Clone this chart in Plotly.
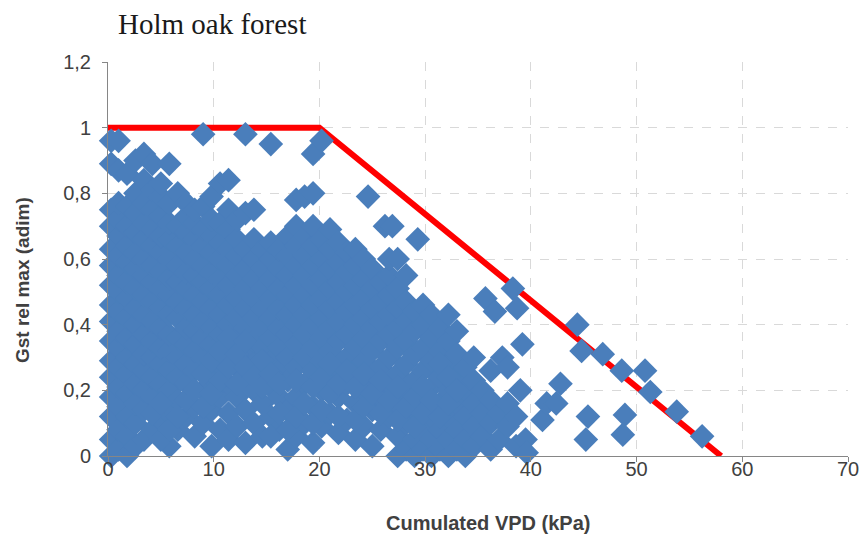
import plotly.graph_objects as go

vpd = [
    0.3,0.3,0.3,0.3,0.3,0.3,0.3,0.3,0.3,0.3,0.3,0.3,0.3,0.3,0.3,0.3,
    1.0,1.0,1.0,1.0,1.0,1.0,1.0,1.0,1.0,1.0,1.0,1.0,1.0,1.0,1.0,1.0,
    1.8,1.8,1.8,1.8,1.8,1.8,1.8,1.8,1.8,1.8,1.8,1.8,1.8,1.8,1.8,
    2.6,2.6,2.6,2.6,2.6,2.6,2.6,2.6,2.6,2.6,2.6,2.6,2.6,2.6,2.6,
    3.4,3.4,3.4,3.4,3.4,3.4,3.4,3.4,3.4,3.4,3.4,3.4,3.4,3.4,3.4,
    4.2,4.2,4.2,4.2,4.2,4.2,4.2,4.2,4.2,4.2,4.2,4.2,4.2,4.2,
    5.0,5.0,5.0,5.0,5.0,5.0,5.0,5.0,5.0,5.0,5.0,5.0,5.0,
    5.8,5.8,5.8,5.8,5.8,5.8,5.8,5.8,5.8,5.8,5.8,5.8,5.8,5.8,
    6.6,6.6,6.6,6.6,6.6,6.6,6.6,6.6,6.6,6.6,6.6,6.6,
    7.4,7.4,7.4,7.4,7.4,7.4,7.4,7.4,7.4,7.4,7.4,7.4,
    8.2,8.2,8.2,8.2,8.2,8.2,8.2,8.2,8.2,8.2,8.2,8.2,
    9.0,9.0,9.0,9.0,9.0,9.0,9.0,9.0,9.0,9.0,9.0,9.0,
    9.8,9.8,9.8,9.8,9.8,9.8,9.8,9.8,9.8,9.8,9.8,9.8,
    10.6,10.6,10.6,10.6,10.6,10.6,10.6,10.6,10.6,10.6,10.6,
    11.4,11.4,11.4,11.4,11.4,11.4,11.4,11.4,11.4,11.4,11.4,11.4,
    12.2,12.2,12.2,12.2,12.2,12.2,12.2,12.2,12.2,12.2,
    13.0,13.0,13.0,13.0,13.0,13.0,13.0,13.0,13.0,13.0,13.0,
    13.8,13.8,13.8,13.8,13.8,13.8,13.8,13.8,13.8,13.8,
    14.6,14.6,14.6,14.6,14.6,14.6,14.6,14.6,14.6,
    15.4,15.4,15.4,15.4,15.4,15.4,15.4,15.4,15.4,15.4,
    16.2,16.2,16.2,16.2,16.2,16.2,16.2,16.2,16.2,
    17.0,17.0,17.0,17.0,17.0,17.0,17.0,17.0,17.0,17.0,
    17.8,17.8,17.8,17.8,17.8,17.8,17.8,17.8,17.8,17.8,17.8,
    18.6,18.6,18.6,18.6,18.6,18.6,18.6,18.6,18.6,18.6,
    19.4,19.4,19.4,19.4,19.4,19.4,19.4,19.4,19.4,19.4,19.4,19.4,
    20.2,20.2,20.2,20.2,20.2,20.2,20.2,20.2,20.2,20.2,
    21.0,21.0,21.0,21.0,21.0,21.0,21.0,21.0,21.0,
    21.8,21.8,21.8,21.8,21.8,21.8,21.8,21.8,21.8,
    22.6,22.6,22.6,22.6,22.6,22.6,22.6,22.6,
    23.4,23.4,23.4,23.4,23.4,23.4,23.4,23.4,23.4,
    24.2,24.2,24.2,24.2,24.2,24.2,24.2,24.2,24.6,
    25.0,25.0,25.0,25.0,25.0,25.0,25.0,25.0,
    25.8,25.8,25.8,25.8,25.8,25.8,25.8,26.2,
    26.6,26.6,26.6,26.6,26.6,26.6,26.6,26.6,26.9,
    27.4,27.4,27.4,27.4,27.4,27.4,27.4,27.4,27.4,
    28.2,28.2,28.2,28.2,28.2,28.2,28.2,28.2,
    29.0,29.0,29.0,29.0,29.0,29.0,29.0,29.3,
    29.8,29.8,29.8,29.8,29.8,29.8,29.8,
    30.6,30.6,30.6,30.6,30.6,30.6,30.6,
    31.4,31.4,31.4,31.4,31.4,31.4,
    32.2,32.2,32.2,32.2,32.2,32.2,32.2,
    33.0,33.0,33.0,33.0,33.0,33.0,
    33.8,33.8,33.8,33.8,33.8,
    34.6,34.6,34.6,34.6,34.6,
    35.4,35.4,35.4,35.7,
    36.2,36.2,36.2,36.2,36.6,
    37.0,37.0,37.3,37.8,
    37.8,37.8,38.3,38.7,
    38.6,38.6,39.2,39.0,
    39.5,39.6,41.1,41.5,42.4,42.8,44.4,44.8,45.4,45.2,
    46.8,48.6,50.8,51.3,53.8,56.2,48.9,48.7,
]
gst = [
    0.00,0.05,0.12,0.18,0.24,0.29,0.35,0.41,0.46,0.52,0.58,0.63,0.70,0.75,0.89,0.96,
    0.02,0.08,0.15,0.21,0.27,0.33,0.38,0.44,0.50,0.55,0.61,0.67,0.72,0.77,0.87,0.96,
    0.00,0.06,0.12,0.19,0.25,0.30,0.36,0.42,0.48,0.53,0.59,0.64,0.70,0.76,0.86,
    0.03,0.10,0.16,0.22,0.28,0.34,0.40,0.45,0.51,0.57,0.62,0.68,0.74,0.80,0.90,
    0.05,0.14,0.20,0.26,0.31,0.37,0.43,0.49,0.55,0.60,0.66,0.71,0.77,0.84,0.92,
    0.08,0.18,0.24,0.30,0.35,0.41,0.47,0.53,0.58,0.64,0.69,0.75,0.81,0.89,
    0.11,0.22,0.28,0.33,0.39,0.45,0.51,0.56,0.62,0.67,0.73,0.79,0.83,
    0.03,0.13,0.20,0.26,0.32,0.37,0.43,0.49,0.54,0.60,0.66,0.71,0.77,0.89,
    0.08,0.17,0.24,0.30,0.36,0.42,0.47,0.53,0.58,0.64,0.70,0.80,
    0.12,0.22,0.28,0.34,0.39,0.45,0.51,0.56,0.62,0.68,0.73,0.77,
    0.06,0.15,0.26,0.32,0.38,0.43,0.49,0.55,0.60,0.66,0.71,0.75,
    0.10,0.20,0.30,0.36,0.41,0.47,0.53,0.58,0.64,0.69,0.76,0.98,
    0.03,0.14,0.24,0.34,0.39,0.45,0.51,0.56,0.62,0.67,0.72,0.79,
    0.08,0.18,0.28,0.37,0.43,0.49,0.54,0.60,0.65,0.71,0.83,
    0.05,0.13,0.22,0.32,0.40,0.46,0.52,0.58,0.63,0.69,0.75,0.84,
    0.09,0.18,0.27,0.36,0.42,0.48,0.55,0.61,0.66,0.72,
    0.04,0.14,0.23,0.31,0.39,0.45,0.51,0.57,0.63,0.74,0.98,
    0.10,0.20,0.28,0.35,0.42,0.48,0.54,0.60,0.66,0.75,
    0.06,0.16,0.25,0.33,0.39,0.45,0.51,0.57,0.63,
    0.12,0.21,0.29,0.36,0.42,0.48,0.54,0.60,0.65,0.95,
    0.08,0.18,0.26,0.33,0.39,0.45,0.51,0.57,0.63,
    0.02,0.14,0.23,0.30,0.37,0.43,0.49,0.55,0.61,0.67,
    0.06,0.18,0.27,0.34,0.40,0.46,0.52,0.58,0.64,0.70,0.78,
    0.10,0.22,0.30,0.37,0.43,0.49,0.55,0.61,0.67,0.79,
    0.04,0.15,0.26,0.33,0.40,0.46,0.52,0.58,0.64,0.70,0.80,0.92,
    0.09,0.20,0.29,0.36,0.42,0.48,0.54,0.60,0.66,0.96,
    0.13,0.24,0.32,0.39,0.45,0.51,0.57,0.63,0.69,
    0.07,0.18,0.27,0.35,0.41,0.47,0.53,0.59,0.65,
    0.11,0.22,0.30,0.37,0.44,0.50,0.56,0.62,
    0.05,0.16,0.26,0.33,0.40,0.46,0.52,0.58,0.63,
    0.09,0.20,0.29,0.36,0.42,0.48,0.54,0.60,0.79,
    0.03,0.14,0.24,0.32,0.39,0.45,0.51,0.57,
    0.08,0.18,0.27,0.35,0.41,0.47,0.53,0.70,
    0.12,0.22,0.30,0.37,0.43,0.49,0.55,0.60,0.70,
    0.00,0.06,0.16,0.25,0.33,0.39,0.45,0.51,0.60,
    0.02,0.10,0.20,0.28,0.35,0.41,0.47,0.55,
    0.00,0.05,0.14,0.23,0.31,0.38,0.44,0.66,
    0.02,0.08,0.17,0.26,0.33,0.40,0.46,
    0.00,0.05,0.12,0.21,0.29,0.36,0.43,
    0.02,0.08,0.16,0.24,0.32,0.39,
    0.00,0.05,0.12,0.20,0.28,0.35,0.43,
    0.02,0.08,0.16,0.24,0.31,0.38,
    0.00,0.05,0.12,0.20,0.27,
    0.03,0.09,0.16,0.23,0.30,
    0.06,0.13,0.20,0.48,
    0.02,0.10,0.17,0.26,0.44,
    0.05,0.13,0.30,0.27,
    0.09,0.16,0.51,0.45,
    0.03,0.12,0.34,0.20,
    0.05,0.01,0.11,0.16,0.16,0.22,0.40,0.32,0.12,0.05,
    0.31,0.26,0.26,0.195,0.135,0.06,0.125,0.065,
]

# Additional observations in the dense lower part of the cloud
vpd_low = [
    4.2, 5.0,5.0, 5.8, 6.6, 7.4, 8.2, 9.0,9.0, 9.8,9.8,
    10.6,10.6, 11.4,11.4, 12.2,12.2, 13.0,13.0,
    13.8, 14.6,14.6, 15.4,15.4, 16.2,16.2,
    17.0, 17.8,17.8, 18.6, 19.4,19.4, 20.2,20.2,
    21.0,21.0, 21.8,21.8, 22.6, 23.4,23.4, 24.2,24.2,
    25.0, 25.8,25.8, 26.6, 27.4,27.4, 28.2, 29.0,29.0,
    29.8,29.8, 30.6, 31.4,31.4, 32.2,32.2, 33.0,
]
gst_low = [
    0.13, 0.05,0.16, 0.08, 0.12, 0.17, 0.20, 0.25,0.15, 0.29,0.19,
    0.23,0.32, 0.27,0.36, 0.22,0.31, 0.27,0.35,
    0.24, 0.21,0.29, 0.25,0.06, 0.13,0.22,
    0.08, 0.12,0.23, 0.16, 0.10,0.21, 0.14,0.24,
    0.19,0.28, 0.12,0.22, 0.26, 0.21,0.11, 0.15,0.25,
    0.19, 0.13,0.23, 0.17, 0.11,0.21, 0.15, 0.18,0.09,
    0.13,0.21, 0.17, 0.12,0.28, 0.16,0.24, 0.20,
]

# Red envelope line
env_x = [0, 20, 58]
env_y = [1, 1, 0]

x_ticks = [0, 10, 20, 30, 40, 50, 60, 70]
y_ticks = [0, 0.2, 0.4, 0.6, 0.8, 1.0, 1.2]
y_tick_text = ["0", "0,2", "0,4", "0,6", "0,8", "1", "1,2"]

L, R, T, B = 108, 16, 62, 90
W, H = 864, 546

fig = go.Figure()
fig.add_trace(go.Scatter(
    x=env_x, y=env_y, mode="lines",
    line=dict(color="#FF0000", width=6),
    hoverinfo="skip", cliponaxis=False,
))
fig.add_trace(go.Scatter(
    x=vpd + vpd_low, y=gst + gst_low, mode="markers",
    marker=dict(symbol="diamond", size=19, color="#4A7EBB", line=dict(width=0)),
    cliponaxis=False,
))

axis_font = dict(family="Liberation Sans, Arial, sans-serif", size=20, color="#404040")

fig.update_layout(
    width=W, height=H,
    margin=dict(l=L, r=R, t=T, b=B, autoexpand=False),
    paper_bgcolor="white", plot_bgcolor="white",
    showlegend=False,
    title=dict(
        text="Holm oak forest", x=118/W, xref="container", xanchor="left",
        y=1 - 24/H, yref="container", yanchor="middle",
        font=dict(family="Liberation Serif, Times New Roman, serif", size=29, color="#1a1a1a"),
    ),
    annotations=[
        dict(text="<b>Cumulated VPD (kPa)</b>", xref="paper", yref="paper",
             x=(488 - L) / (W - L - R), y=-(523 - (H - B)) / (H - T - B),
             xanchor="center", yanchor="middle", showarrow=False,
             font=dict(family="Liberation Sans, Arial, sans-serif", size=20, color="#404040")),
        dict(text="<b>Gst rel max (adim)</b>", xref="paper", yref="paper",
             x=-(L - 22) / (W - L - R), y=((H - B) - 280) / (H - T - B),
             xanchor="center", yanchor="middle", showarrow=False, textangle=-90,
             font=dict(family="Liberation Sans, Arial, sans-serif", size=19, color="#404040")),
    ],
)
fig.update_xaxes(
    range=[0, 70], tickvals=x_ticks, ticktext=[str(v) for v in x_ticks],
    showgrid=True, gridcolor="#D9D9D9", griddash="dash", gridwidth=1,
    showline=True, linecolor="#868686", linewidth=1,
    ticks="outside", ticklen=5, tickcolor="#868686",
    tickfont=axis_font, ticklabelstandoff=-10,
    zeroline=False, automargin=False,
)
fig.update_yaxes(
    range=[0, 1.2], tickvals=y_ticks, ticktext=y_tick_text,
    showgrid=True, gridcolor="#D9D9D9", griddash="dash", gridwidth=1,
    showline=True, linecolor="#868686", linewidth=1,
    ticks="outside", ticklen=5, tickcolor="#868686",
    tickfont=axis_font, ticklabelstandoff=7,
    zeroline=False, automargin=False,
)

fig.write_html("out.html")
